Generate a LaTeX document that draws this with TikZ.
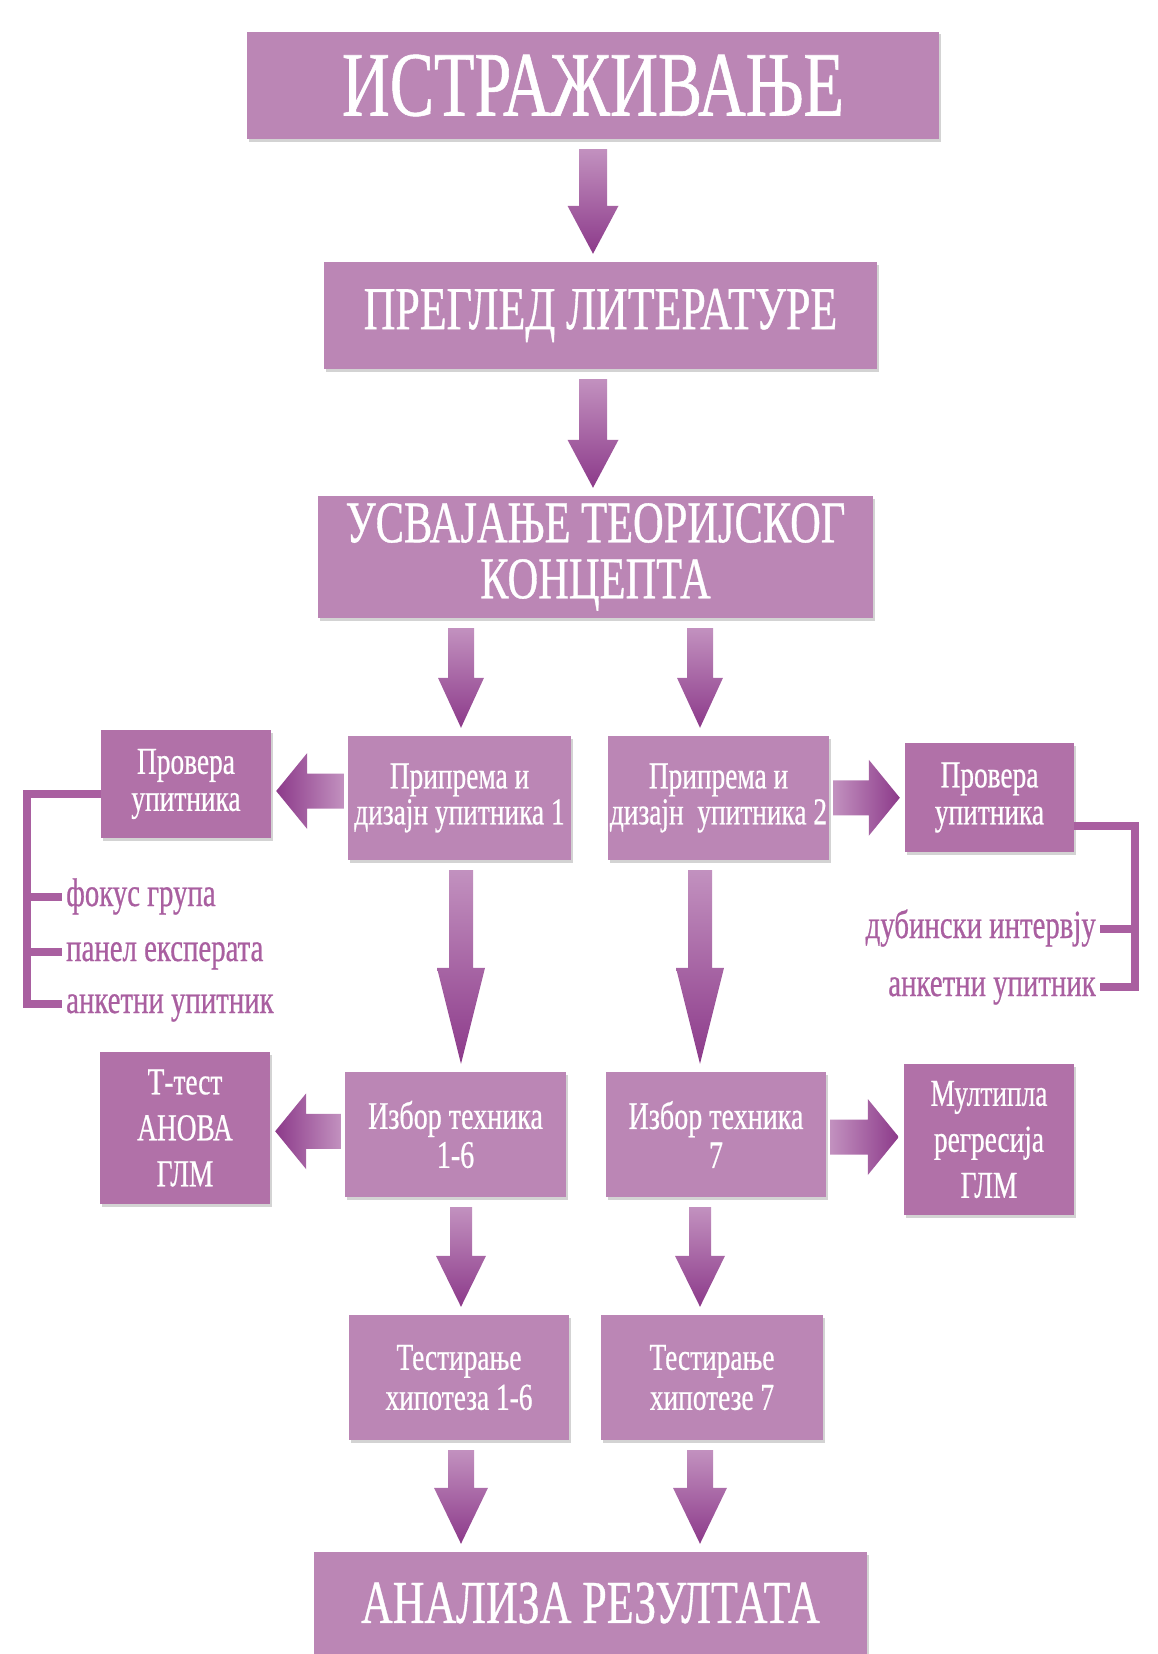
\documentclass[tikz,border=0pt]{standalone}
\usepackage{fontspec}
\setmainfont{Liberation Serif}[FakeStretch=0.72, FakeBold=0.6]
\usepackage{xcolor}
\usetikzlibrary{calc,shadows}
\definecolor{box_fill}{HTML}{BB86B5}
\definecolor{side_fill}{HTML}{B171A8}
\definecolor{arrow_light}{HTML}{C291BF}
\definecolor{arrow_dark}{HTML}{8C3A8A}
\definecolor{list_purple}{HTML}{A95FA0}

\tikzset{
  stage/.style={fill=box_fill, text=white, align=center, inner sep=0pt,
    drop shadow={shadow xshift=1.5pt, shadow yshift=-2.5pt, opacity=0.35}},
  sidebox/.style={stage, fill=side_fill},
  downfill/.style={top color=arrow_light, bottom color=arrow_dark},
  leftfill/.style={left color=arrow_dark, right color=arrow_light},
  rightfill/.style={left color=arrow_light, right color=arrow_dark},
  bracket/.style={draw=list_purple, line width=8pt},
  listtext/.style={text=list_purple, inner xsep=4pt, inner ysep=0pt,
    text height=18pt, text depth=0pt, font=\fontsize{40}{44}\selectfont}
}

% block arrows: start, end, half shaft, half head, head length
\newcommand{\downblock}[5]{%
  \path[downfill] let \p1=#1, \p2=#2 in
    (\x1-#3,\y1-10pt) -- (\x1+#3,\y1-10pt) -- (\x1+#3,\y2+8pt+#5) -- (\x1+#4,\y2+8pt+#5)
    -- (\x1,\y2+8pt) -- (\x1-#4,\y2+8pt+#5) -- (\x1-#3,\y2+8pt+#5) -- cycle;}
\newcommand{\leftblock}[5]{%
  \path[leftfill] let \p1=#1, \p2=#2, \p3=($#1!0.5!#2$) in
    (\x1-4pt,\y3+#3) -- (\x2+5pt+#5,\y3+#3) -- (\x2+5pt+#5,\y3+#4) -- (\x2+5pt,\y3)
    -- (\x2+5pt+#5,\y3-#4) -- (\x2+5pt+#5,\y3-#3) -- (\x1-4pt,\y3-#3) -- cycle;}
\newcommand{\rightblock}[5]{%
  \path[rightfill] let \p1=#1, \p2=#2, \p3=($#1!0.5!#2$) in
    (\x1+4pt,\y3+#3) -- (\x2-5pt-#5,\y3+#3) -- (\x2-5pt-#5,\y3+#4) -- (\x2-5pt,\y3)
    -- (\x2-5pt-#5,\y3-#4) -- (\x2-5pt-#5,\y3-#3) -- (\x1+4pt,\y3-#3) -- cycle;}

\begin{document}
\begin{tikzpicture}[x=1pt, y=-1pt]
  \useasboundingbox (0,0) rectangle (1158,1654);

  % main column
  \node[stage, minimum width=692pt, minimum height=107pt, font=\fontsize{92}{94}\selectfont]
    (title) at (593,85.5) {ИСТРАЖИВАЊЕ};
  \node[stage, minimum width=553pt, minimum height=107pt, font=\fontsize{61}{64}\selectfont]
    (lit) at (600.5,315.5) {ПРЕГЛЕД ЛИТЕРАТУРЕ};
  \node[stage, minimum width=555pt, minimum height=122pt, font=\fontsize{59}{56}\selectfont]
    (teo) at (595.5,557) {УСВАЈАЊЕ ТЕОРИЈСКОГ\\КОНЦЕПТА};

  % two branches
  \node[stage, minimum width=223pt, minimum height=124pt, font=\fontsize{38}{36}\selectfont]
    (pp1) at (459.5,798) {Припрема и\\дизајн упитника 1};
  \node[stage, minimum width=221pt, minimum height=124pt, font=\fontsize{38}{36}\selectfont]
    (pp2) at (718.5,798) {Припрема и\\дизајн\ \ упитника 2};
  \node[sidebox, minimum width=170pt, minimum height=108pt, font=\fontsize{38}{37}\selectfont]
    (pv1) at (186,784) {Провера\\упитника};
  \node[sidebox, minimum width=169pt, minimum height=109pt, font=\fontsize{38}{37}\selectfont]
    (pv2) at (989.5,797.5) {Провера\\упитника};

  \node[stage, minimum width=221pt, minimum height=125pt, font=\fontsize{39}{39}\selectfont]
    (iz1) at (455.5,1134.5) {Избор техника\\1-6};
  \node[stage, minimum width=220pt, minimum height=125pt, font=\fontsize{39}{39}\selectfont]
    (iz2) at (716,1134.5) {Избор техника\\7};
  \node[sidebox, minimum width=170pt, minimum height=152pt, font=\fontsize{38}{46}\selectfont]
    (tt) at (185,1128) {Т-тест\\АНОВА\\ГЛМ};
  \node[sidebox, minimum width=170pt, minimum height=151pt, font=\fontsize{38}{46}\selectfont]
    (mr) at (989,1139.5) {Мултипла\\регресија\\ГЛМ};

  \node[stage, minimum width=220pt, minimum height=125pt, font=\fontsize{38}{40}\selectfont]
    (te1) at (459,1377.5) {Тестирање\\хипотеза 1-6};
  \node[stage, minimum width=222pt, minimum height=125pt, font=\fontsize{38}{40}\selectfont]
    (te2) at (712,1377.5) {Тестирање\\хипотезе 7};

  \node[stage, minimum width=553pt, minimum height=102pt, font=\fontsize{61}{64}\selectfont]
    (res) at (590.5,1603) {АНАЛИЗА РЕЗУЛТАТА};

  % arrows
  \coordinate (colL) at (461,0);
  \coordinate (colR) at (700,0);
  \downblock{(title.south)}{(title.south |- lit.north)}{14pt}{25.5pt}{48pt}
  \downblock{(lit.south -| title.south)}{(title.south |- teo.north)}{14pt}{25.5pt}{48pt}
  \downblock{(colL |- teo.south)}{(colL |- pp1.north)}{13pt}{23pt}{50pt}
  \downblock{(colR |- teo.south)}{(colR |- pp2.north)}{13pt}{23pt}{50pt}
  \downblock{(colL |- pp1.south)}{(colL |- iz1.north)}{12pt}{24pt}{96pt}
  \downblock{(colR |- pp2.south)}{(colR |- iz2.north)}{12pt}{24pt}{96pt}
  \downblock{(colL |- iz1.south)}{(colL |- te1.north)}{11pt}{25pt}{51pt}
  \downblock{(colR |- iz2.south)}{(colR |- te2.north)}{11pt}{25pt}{51pt}
  \downblock{(colL |- te1.south)}{(colL |- res.north)}{13pt}{27pt}{56pt}
  \downblock{(colR |- te2.south)}{(colR |- res.north)}{13pt}{27pt}{56pt}

  \leftblock{(pp1.west)}{(pv1.east)}{17.5pt}{38pt}{31pt}
  \rightblock{(pp2.east)}{(pv2.west)}{17.5pt}{38pt}{31pt}
  \leftblock{(iz1.west)}{(tt.east)}{17.5pt}{38pt}{31pt}
  \rightblock{(iz2.east)}{(mr.west)}{17.5pt}{38pt}{31pt}

  % left list
  \node[listtext, anchor=west] (fg) at (62,897) {фокус група};
  \node[listtext, anchor=west] (pe) at (62,952) {панел експерата};
  \node[listtext, anchor=west] (au1) at (62,1004) {анкетни упитник};
  \coordinate (brkL) at (26.5,0);
  \draw[bracket] ($(pv1.west)+(0,10)$) -| (brkL |- au1.west) -- (au1.west);
  \draw[bracket] (brkL |- fg.west) -- (fg.west);
  \draw[bracket] (brkL |- pe.west) -- (pe.west);

  % right list
  \node[listtext, anchor=east] (di) at (1100,929) {дубински интервју};
  \node[listtext, anchor=east] (au2) at (1100,987) {анкетни упитник};
  \coordinate (brkR) at (1135,0);
  \draw[bracket] ($(pv2.east)+(0,28)$) -| (brkR |- au2.east) -- (au2.east);
  \draw[bracket] (brkR |- di.east) -- (di.east);
\end{tikzpicture}
\end{document}
